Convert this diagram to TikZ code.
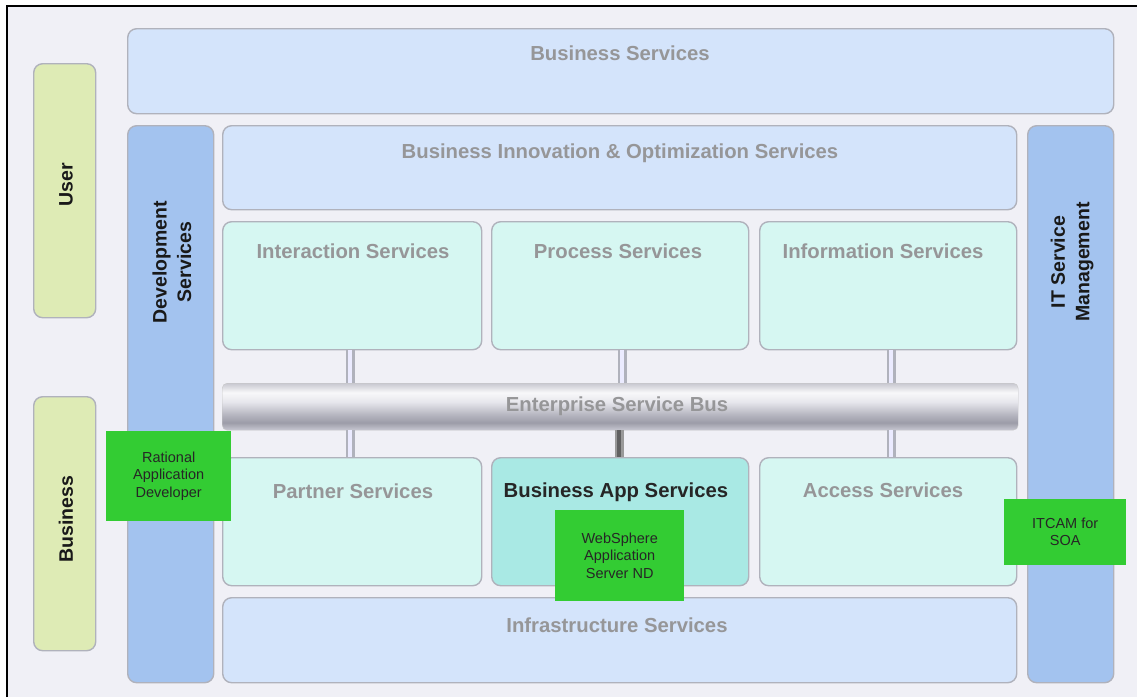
\documentclass[tikz,border=0pt]{standalone}
\usepackage{fontspec}
\setmainfont{Liberation Sans}
\definecolor{bgc}{RGB}{240,240,246}
\definecolor{bordc}{RGB}{176,178,188}
\definecolor{usrc}{RGB}{222,235,181}
\definecolor{lbc}{RGB}{212,228,251}
\definecolor{dbc}{RGB}{163,195,239}
\definecolor{cyc}{RGB}{214,247,242}
\definecolor{tlc}{RGB}{169,233,228}
\definecolor{lblc}{RGB}{150,150,152}
\definecolor{gc}{RGB}{51,204,51}
\definecolor{esbT}{RGB}{200,200,208}
\definecolor{esbW}{RGB}{248,248,250}
\definecolor{esbA}{RGB}{230,230,236}
\definecolor{esbB}{RGB}{180,180,190}
\definecolor{esbC}{RGB}{156,156,168}
\definecolor{esbD}{RGB}{200,200,210}
\pgfdeclareverticalshading{esbshade}{100bp}{color(0bp)=(esbD); color(25bp)=(esbD); color(33bp)=(esbC); color(41bp)=(esbB); color(55bp)=(esbA); color(65bp)=(esbW); color(75bp)=(esbT); color(100bp)=(esbT)}
\tikzset{
  box/.style={draw=bordc, line width=1.4pt, rounded corners=9pt, anchor=north west, inner sep=0pt},
  lbl/.style={font=\bfseries\fontsize{20.3}{22}\selectfont, text=lblc, anchor=base, inner sep=0pt},
  rotlbl/.style={font=\bfseries\fontsize{19.5}{24.5}\selectfont, text=black!90, rotate=90, align=center, inner sep=0pt},
  gbox/.style={fill=gc, anchor=north west, align=center, inner sep=0pt, font=\fontsize{14.5}{17.2}\selectfont, text=black!85},
  pipe/.style={draw=bordc, line width=2.4pt, double=white!92!blue, double distance=4.5pt, line cap=butt},
  darkpipe/.style={draw=black!40, line width=2.4pt, double=black!62, double distance=4.5pt, line cap=butt}
}
\begin{document}
\begin{tikzpicture}[x=1pt,y=-1pt]
\useasboundingbox (0,0) rectangle (1137,697);
\fill[white] (0,0) rectangle (1137,697);
\fill[bgc] (7,6) rectangle (1137,697);
\draw[black, line width=1.3pt] (7,697) -- (7,6) -- (1137,6);

% side labels
\node[box, fill=usrc, minimum width=62pt, minimum height=254pt] (user) at (33,63) {};
\node[box, fill=usrc, minimum width=62pt, minimum height=254pt] (busn) at (33,396) {};
\node[rotlbl] (userl) at (66,185) {User};
\node[rotlbl] (busnl) at (66,519) {Business};

% top
\node[box, fill=lbc, minimum width=986pt, minimum height=85pt] (bs) at (127,28) {};
\node[lbl] (bsl) at (620,60) {Business Services};

% verticals
\node[box, fill=dbc, minimum width=86pt, minimum height=557pt] (dev) at (127,125) {};
\node[rotlbl] (devl) at (172,262) {Development\\Services};
\node[box, fill=dbc, minimum width=86pt, minimum height=557pt] (itsm) at (1027,125) {};
\node[rotlbl] (itsml) at (1072,262) {IT Service\\Management};

% BIO
\node[box, fill=lbc, minimum width=794pt, minimum height=84pt] (bio) at (222,125) {};
\node[lbl] (biol) at (620,158) {Business Innovation \& Optimization Services};

% row 1
\node[box, fill=cyc, minimum width=259pt, minimum height=128pt] (int) at (222,221) {};
\node[box, fill=cyc, minimum width=257pt, minimum height=128pt] (pro) at (491,221) {};
\node[box, fill=cyc, minimum width=257pt, minimum height=128pt] (inf) at (759,221) {};
\node[lbl] (intl) at (353,258) {Interaction Services};
\node[lbl] (prol) at (618,258) {Process Services};
\node[lbl] (infl) at (883,258) {Information Services};

% row 2
\node[box, fill=cyc, minimum width=259pt, minimum height=128pt] (par) at (222,457) {};
\node[box, fill=tlc, minimum width=257pt, minimum height=128pt] (bas) at (491,457) {};
\node[box, fill=cyc, minimum width=257pt, minimum height=128pt] (acc) at (759,457) {};
\node[lbl] (parl) at (353,498) {Partner Services};
\node[lbl, text=black!85] (basl) at (616,497) {Business App Services};
\node[lbl] (accl) at (883,497) {Access Services};

% infrastructure
\node[box, fill=lbc, minimum width=794pt, minimum height=85pt] (infra) at (222,597) {};
\node[lbl] (infral) at (617,632) {Infrastructure Services};

% ESB
\node[anchor=north west, minimum width=796pt, minimum height=47pt, inner sep=0pt, shading=esbshade, rounded corners=5pt, draw=black!22, line width=0.4pt] (esb) at (222,383) {};
\node[lbl] (esbl) at (617,411) {Enterprise Service Bus};

% pipes
\draw[pipe] ([xshift=-2pt]int.south) -- ([xshift=-2pt]int.south |- esb.north);
\draw[pipe] ([xshift=2pt]pro.south) -- ([xshift=2pt]pro.south |- esb.north);
\draw[pipe] ([xshift=3pt]inf.south) -- ([xshift=3pt]inf.south |- esb.north);
\draw[pipe] ([xshift=-2pt]esb.south -| par.north) -- ([xshift=-2pt]par.north);
\draw[darkpipe] ([xshift=-1pt]esb.south -| bas.north) -- ([xshift=-1pt]bas.north);
\draw[pipe] ([xshift=3pt]esb.south -| acc.north) -- ([xshift=3pt]acc.north);

% green product boxes
\node[gbox, minimum width=125pt, minimum height=90pt] (rad) at (106,431) {Rational\\Application\\Developer};
\node[gbox, minimum width=129pt, minimum height=91pt] (was) at (555,510) {WebSphere\\Application\\Server ND};
\node[gbox, minimum width=122pt, minimum height=66pt] (itcam) at (1004,499) {ITCAM for\\SOA};
\end{tikzpicture}
\end{document}
